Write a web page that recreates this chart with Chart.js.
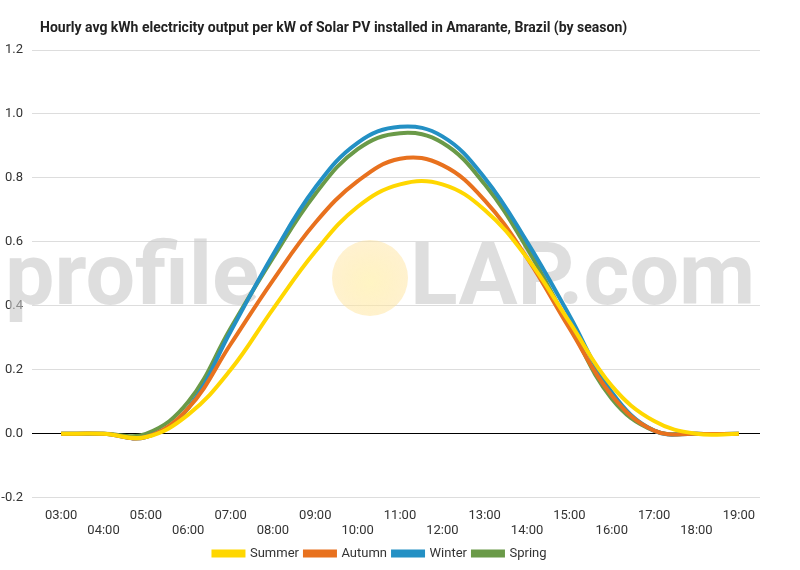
<!DOCTYPE html>
<html><head><meta charset="utf-8">
<script src="https://cdn.jsdelivr.net/npm/chart.js@4"></script>
<style>html,body{margin:0;background:#fff}#w{width:800px;height:570px}</style>
</head><body><div id="w"><canvas id="c"></canvas></div>
<script>
const hours=['03:00','04:00','05:00','06:00','07:00','08:00','09:00','10:00','11:00','12:00','13:00','14:00','15:00','16:00','17:00','18:00','19:00'];
const summer=[0,0,-0.01,0.06,0.20,0.39,0.57,0.71,0.78,0.78,0.70,0.55,0.35,0.15,0.04,0,0];
const autumn=[0,0,-0.01,0.08,0.28,0.48,0.66,0.79,0.86,0.84,0.73,0.55,0.33,0.12,0.01,0,0];
const winter=[0,0,-0.01,0.08,0.32,0.56,0.77,0.91,0.96,0.93,0.80,0.60,0.37,0.13,0.01,0,0];
const spring=[0,0,0,0.10,0.33,0.55,0.75,0.89,0.94,0.91,0.78,0.58,0.34,0.11,0.01,0,0];
const yTicks=[-0.2,0,0.2,0.4,0.6,0.8,1.0,1.2];
const title='Hourly avg kWh electricity output per kW of Solar PV installed in Amarante, Brazil (by season)';
const mk=(l,d,c)=>({label:l,data:d,borderColor:c,backgroundColor:c,borderWidth:4,pointRadius:0,tension:0.4,fill:false});
const wm={id:'wm',beforeDatasetsDraw(ch){const {ctx,chartArea:a}=ch;ctx.save();
 ctx.fillStyle='rgba(200,200,200,0.6)';ctx.font='bold 88px Roboto';ctx.textBaseline='middle';
 const y=282;ctx.fillText('profile',5,y);
 const g=ctx.createRadialGradient(370,y,0,370,y,40);g.addColorStop(0,'rgba(255,240,170,0.7)');g.addColorStop(1,'rgba(255,225,150,0.45)');
 ctx.fillStyle=g;ctx.beginPath();ctx.arc(370,y-4,38,0,Math.PI*2);ctx.fill();
 ctx.fillStyle='rgba(200,200,200,0.6)';ctx.fillText('LAP.com',410,y);ctx.restore();},
 afterDraw(ch){const ctx=ch.ctx;ctx.save();ctx.fillStyle='#222';ctx.font='bold 14px Roboto';ctx.textBaseline='middle';ctx.fillText(title,40,28);ctx.restore();}};
new Chart(document.getElementById('c'),{type:'line',
data:{labels:hours,datasets:[mk('Summer',summer,'#ffd700'),mk('Autumn',autumn,'#e8711e'),mk('Winter',winter,'#2390c4'),mk('Spring',spring,'#6a9a48')]},
options:{responsive:true,maintainAspectRatio:false,animation:false,
layout:{padding:{left:0,right:40,top:50,bottom:0}},
plugins:{title:{display:false},
legend:{position:'bottom',labels:{boxWidth:30,boxHeight:4,color:'#333',font:{family:'Roboto',size:13},padding:6}},tooltip:{enabled:false}},
scales:{x:{offset:true,grid:{display:false},border:{display:false},ticks:{autoSkip:false,maxRotation:0,color:'#333',font:{family:'Roboto',size:13},padding:2,callback:(v,i)=>i%2?['',hours[i]]:[hours[i],'']}},
y:{min:-0.2,max:1.2,afterBuildTicks:s=>{s.ticks=yTicks.map(v=>({value:v}))},border:{display:false},afterFit:s=>{s.width=40},
grid:{color:c=>c.tick.value===0?'#000':'#ddd'},ticks:{color:'#333',font:{family:'Roboto',size:13},padding:9,callback:v=>v.toFixed(1)}}}},
plugins:[wm]});
</script></body></html>
